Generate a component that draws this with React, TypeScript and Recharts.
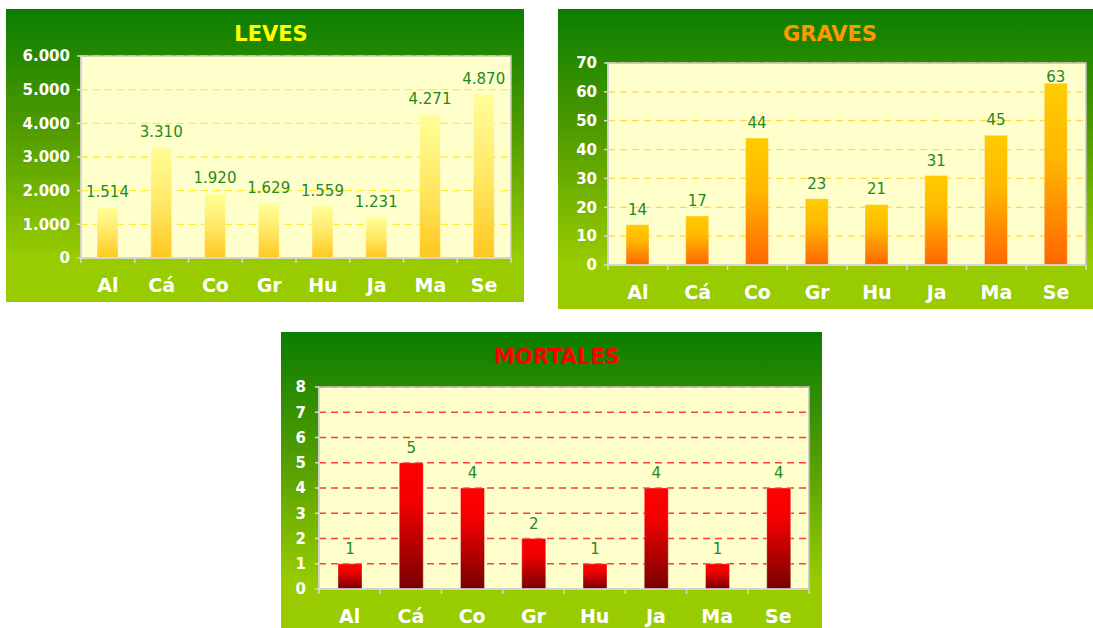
import React from 'react';
import { BarChart, Bar, XAxis, YAxis, CartesianGrid, LabelList, ReferenceArea } from 'recharts';

// provincias (abreviadas)
const provincias = ['Al', 'Cá', 'Co', 'Gr', 'Hu', 'Ja', 'Ma', 'Se'];

const leves = [1514, 3310, 1920, 1629, 1559, 1231, 4271, 4870];
const graves = [14, 17, 44, 23, 21, 31, 45, 63];
const mortales = [1, 5, 4, 2, 1, 4, 1, 4];

const levesTicks = [0, 1000, 2000, 3000, 4000, 5000, 6000];
const gravesTicks = [0, 10, 20, 30, 40, 50, 60, 70];
const mortalesTicks = [0, 1, 2, 3, 4, 5, 6, 7, 8];

const FONT = '"DejaVu Sans", Verdana, sans-serif';
const AXIS = '#D9D9D9';

const fmt = (v: number) => String(v).replace(/\B(?=(\d{3})+(?!\d))/g, '.');

interface PanelProps {
  id: string;
  title: string;
  titleColor: string;
  titleX: number;
  values: number[];
  ticks: number[];
  left: number;
  top: number;
  width: number;
  height: number;
  margin: { top: number; right: number; left: number; bottom: number };
  yWidth: number;
  xHeight: number;
  yGap: number;
  barSize: number;
  gridColor: string;
  stops: [number, string][];
}

const Panel: React.FC<PanelProps> = (p) => {
  const data = provincias.map((name, i) => ({ name, value: p.values[i] }));
  const plotW = p.width - p.margin.right - p.yWidth;
  const step = plotW / provincias.length;
  const max = p.ticks[p.ticks.length - 1];

  const XTick = (t: any) => {
    const { x, y, payload, index } = t;
    return (
      <g>
        <line x1={x - step / 2} x2={x - step / 2} y1={y} y2={y + 5} stroke={AXIS} strokeWidth={1.5} />
        {index === provincias.length - 1 && (
          <line x1={x + step / 2} x2={x + step / 2} y1={y} y2={y + 5} stroke={AXIS} strokeWidth={1.5} />
        )}
        <text x={x} y={y + 34} textAnchor="middle" fill="#fff" fontSize={19} fontWeight="bold" fontFamily={FONT}>
          {payload.value}
        </text>
      </g>
    );
  };

  // value label above the bar, kept inside the plot area like the original
  const ValueLabel = (l: any) => {
    const { x, y, width, value } = l;
    const base = Math.max(Number(y) - 10, p.margin.top + 19);
    return (
      <text x={Number(x) + Number(width) / 2} y={base} textAnchor="middle" fill="#1E8A1E" fontSize={15} fontFamily={FONT}>
        {fmt(Number(value))}
      </text>
    );
  };

  return (
    <div
      style={{
        position: 'absolute',
        left: p.left,
        top: p.top,
        width: p.width,
        height: p.height,
        background: 'linear-gradient(to bottom, #0A7D00 0%, #4E9A00 40%, #99CC00 85%, #99CC00 100%)',
      }}
    >
      <div
        style={{
          position: 'absolute',
          left: p.titleX,
          top: 25,
          transform: 'translate(-50%, -50%)',
          color: p.titleColor,
          fontFamily: FONT,
          fontWeight: 'bold',
          fontSize: 21,
          whiteSpace: 'nowrap',
        }}
      >
        {p.title}
      </div>
      <BarChart width={p.width} height={p.height} data={data} margin={p.margin} barCategoryGap={0}>
        <defs>
          <linearGradient id={`grad-${p.id}`} x1="0" y1="0" x2="0" y2="1">
            {p.stops.map(([o, c]) => (
              <stop key={o} offset={o} stopColor={c} />
            ))}
          </linearGradient>
        </defs>
        <CartesianGrid
          vertical={false}
          fill="#FFFFCC"
          stroke={p.gridColor}
          strokeDasharray="7 5"
          strokeWidth={1.3}
        />
        <ReferenceArea y1={0} y2={max} fill="none" stroke="#C4C4C4" strokeWidth={1.5} ifOverflow="extendDomain" />
        <XAxis
          dataKey="name"
          height={p.xHeight}
          interval={0}
          tickLine={false}
          tickSize={0}
          tickMargin={0}
          axisLine={{ stroke: AXIS, strokeWidth: 1.5 }}
          tick={XTick}
        />
        <YAxis
          width={p.yWidth}
          domain={[0, max]}
          ticks={p.ticks}
          interval={0}
          tickSize={4}
          tickMargin={p.yGap - 4}
          tickLine={{ stroke: AXIS, strokeWidth: 1.5 }}
          axisLine={{ stroke: AXIS, strokeWidth: 1.5 }}
          tickFormatter={fmt}
          tick={{ fill: '#fff', fontSize: 15, fontWeight: 'bold', fontFamily: FONT }}
        />
        <Bar
          dataKey="value"
          barSize={p.barSize}
          fill={`url(#grad-${p.id})`}
          stroke="#FFFFFF"
          strokeOpacity={0.35}
          strokeWidth={1}
          isAnimationActive={false}
        >
          <LabelList dataKey="value" content={ValueLabel} />
        </Bar>
      </BarChart>
    </div>
  );
};

export default function App() {
  return (
    <div style={{ position: 'absolute', left: 0, top: 0, width: 1093, height: 628, background: '#fff', overflow: 'hidden' }}>
      <Panel
        id="leves"
        title="LEVES"
        titleColor="#FFFF00"
        titleX={265}
        values={leves}
        ticks={levesTicks}
        left={6}
        top={9}
        width={518}
        height={293}
        margin={{ top: 47, right: 13, left: 0, bottom: 0 }}
        yWidth={75}
        xHeight={44}
        yGap={11}
        barSize={21}
        gridColor="#FFEE22"
        stops={[[0, '#FFFF99'], [0.5, '#FFE866'], [1, '#FFC81E']]}
      />
      <Panel
        id="graves"
        title="GRAVES"
        titleColor="#FF9900"
        titleX={272}
        values={graves}
        ticks={gravesTicks}
        left={558}
        top={9}
        width={535}
        height={300}
        margin={{ top: 54, right: 7, left: 0, bottom: 0 }}
        yWidth={50}
        xHeight={44}
        yGap={11}
        barSize={23}
        gridColor="#FFD94A"
        stops={[[0, '#FFCC00'], [0.4, '#FFB800'], [1, '#FF6600']]}
      />
      <Panel
        id="mortales"
        title="MORTALES"
        titleColor="#FF0000"
        titleX={276}
        values={mortales}
        ticks={mortalesTicks}
        left={281}
        top={332}
        width={541}
        height={296}
        margin={{ top: 55, right: 13, left: 0, bottom: 0 }}
        yWidth={38}
        xHeight={39}
        yGap={13}
        barSize={24}
        gridColor="#FF3B3B"
        stops={[[0, '#FF0000'], [0.3, '#F40000'], [1, '#780000']]}
      />
    </div>
  );
}
